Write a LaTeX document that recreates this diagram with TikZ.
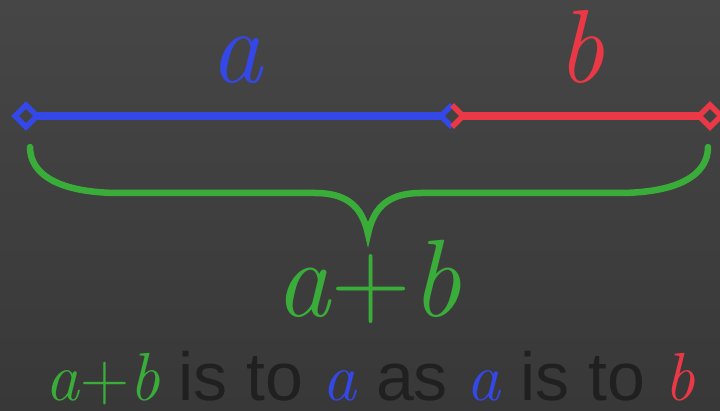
\documentclass[tikz,border=0pt]{standalone}
\usepackage{fontspec}
\setsansfont{Liberation Sans}
\usetikzlibrary{shapes.geometric}
\definecolor{bgtop}{RGB}{70,70,70}
\definecolor{bgbot}{RGB}{56,56,56}
\definecolor{segblue}{RGB}{52,72,232}
\definecolor{segred}{RGB}{235,56,70}
\definecolor{bracegreen}{RGB}{58,172,58}
\definecolor{darktext}{RGB}{32,32,32}
\newcommand{\vi}[1]{{\rmfamily\itshape #1\/}}
\newcommand{\sumab}{{\rmfamily\itshape a\/\upshape+\itshape b\/}}
\tikzset{
  seg/.style={line width=7.5pt},
  diam/.style={line width=5.5pt, line join=miter},
  bigmath/.style={anchor=base, inner sep=0pt, font=\fontsize{104}{104}\selectfont},
  summath/.style={anchor=base, inner sep=0pt, font=\fontsize{110}{110}\selectfont},
  caption/.style={anchor=base, inner sep=0pt, font=\fontsize{68}{68}\selectfont\sffamily, text=darktext},
}
\begin{document}
\begin{tikzpicture}[x=1pt,y=-1pt]
\shade[top color=bgtop, bottom color=bgbot] (0,0) rectangle (720,411);
\useasboundingbox (0,0) rectangle (720,411);
% points
\coordinate (L) at (26,116);
\coordinate (M) at (452,116);
\coordinate (R) at (710,116);
% segments
\draw[seg, segblue] ([xshift=11pt]L) -- ([xshift=-11pt]M);
\draw[seg, segred] ([xshift=11pt]M) -- ([xshift=-11pt]R);
% diamonds
\draw[diam, segblue] ([xshift=-11pt]L) -- ([yshift=-11pt]L) -- ([xshift=11pt]L) -- ([yshift=11pt]L) -- cycle;
\draw[diam, segblue, line cap=butt] ([yshift=-11pt]M) -- ([xshift=-11pt]M) -- ([yshift=11pt]M);
\draw[diam, segred, line cap=butt] ([yshift=-11pt]M) -- ([xshift=11pt]M) -- ([yshift=11pt]M);
\draw[diam, segred] ([xshift=-11pt]R) -- ([yshift=-11pt]R) -- ([xshift=11pt]R) -- ([yshift=11pt]R) -- cycle;
% labels
\node[bigmath, text=segblue] (la) at (237,83) {\vi{a}};
\node[bigmath, text=segred] (lb) at (581,83) {\vi{b}};
% brace
\coordinate (BL) at (30,147);
\coordinate (BT) at (368,234);
\coordinate (BR) at (708,147);
\draw[bracegreen, line width=6.5pt, line cap=round, line join=miter]
  (BL) .. controls (30,175) and (60,193) .. (120,193) -- (315,193)
  .. controls (345,193) and (362,205) .. (BT)
  .. controls (374,205) and (391,193) .. (421,193) -- (618,193)
  .. controls (678,193) and (708,175) .. (BR);
\node[summath, text=bracegreen] (lab) at (368,317) {\sumab};
% caption
\node[caption] (cap) at (370,400) {\textcolor{bracegreen}{\sumab} is to \textcolor{segblue}{\vi{a}} as \textcolor{segblue}{\vi{a}} is to \textcolor{segred}{\vi{b}}};
\end{tikzpicture}
\end{document}
